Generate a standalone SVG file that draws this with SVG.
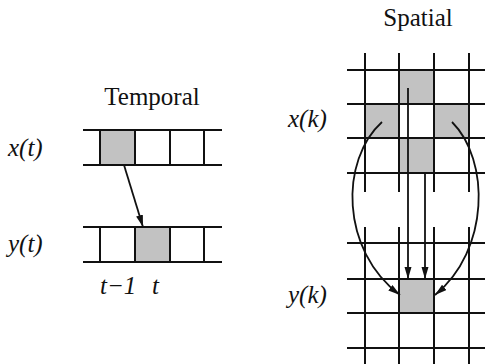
<svg xmlns="http://www.w3.org/2000/svg" width="485" height="364" viewBox="0 0 485 364">
<style>
.g{stroke:#111;stroke-width:2;fill:none}
.s{fill:#c2c2c2;stroke:none}
.c{stroke:#111;stroke-width:1.8;fill:none;marker-end:url(#ah)}
</style>
<defs>
<marker id="ah" markerUnits="userSpaceOnUse" markerWidth="13" markerHeight="8" refX="12" refY="3.5" orient="auto">
<path d="M0,0 L12,3.5 L0,7 z" fill="#111"/>
</marker>
</defs>
<rect width="485" height="364" fill="#fff"/>
<g font-family="Liberation Serif, Times New Roman, Times, serif" font-size="25" fill="#111">
<g id="temporal-title"><text x="152" y="105" text-anchor="middle">Temporal</text></g>
<g id="x-t-row">
<text font-style="italic" x="8" y="156">x(t)</text>
<rect class="s" x="100" y="130" width="35" height="35"/>
<path class="g" d="M83,130H222M83,165H222M100,130V165M135,130V165M170,130V165M204,130V165"/>
</g>
<g id="y-t-row">
<text font-style="italic" x="8" y="252">y(t)</text>
<rect class="s" x="135" y="227" width="35" height="35"/>
<path class="g" d="M83,227H222M83,262H222M100,227V262M135,227V262M170,227V262M204,227V262"/>
<text font-style="italic" x="100" y="294">t−1</text>
<text font-style="italic" x="152" y="294">t</text>
</g>
<g id="spatial-title"><text x="418" y="26" text-anchor="middle">Spatial</text></g>
<g id="x-k-grid">
<text font-style="italic" x="288" y="127">x(k)</text>
<rect class="s" x="399" y="70" width="35" height="34"/>
<rect class="s" x="365" y="104" width="34" height="34"/>
<rect class="s" x="434" y="104" width="35" height="34"/>
<rect class="s" x="399" y="138" width="35" height="35"/>
<path class="g" d="M347,70H485M347,104H485M347,138H485M347,173H485M365,53V192M399,53V192M434,53V192M469,53V192"/>
</g>
<g id="y-k-grid">
<text font-style="italic" x="288" y="303">y(k)</text>
<rect class="s" x="399" y="279" width="35" height="34"/>
<path class="g" d="M347,243H485M347,279H485M347,313H485M347,348H485M365,227V364M399,227V364M434,227V364M469,227V364"/>
</g>
</g>
<g id="connectors">
<path class="c" d="M124,165L143,227"/>
<path class="c" d="M408,88V279"/>
<path class="c" d="M425,173V279"/>
<path class="c" d="M382,122C340,160 340,250 400,295"/>
<path class="c" d="M452,122C490,160 490,250 435,295"/>
</g>
</svg>
